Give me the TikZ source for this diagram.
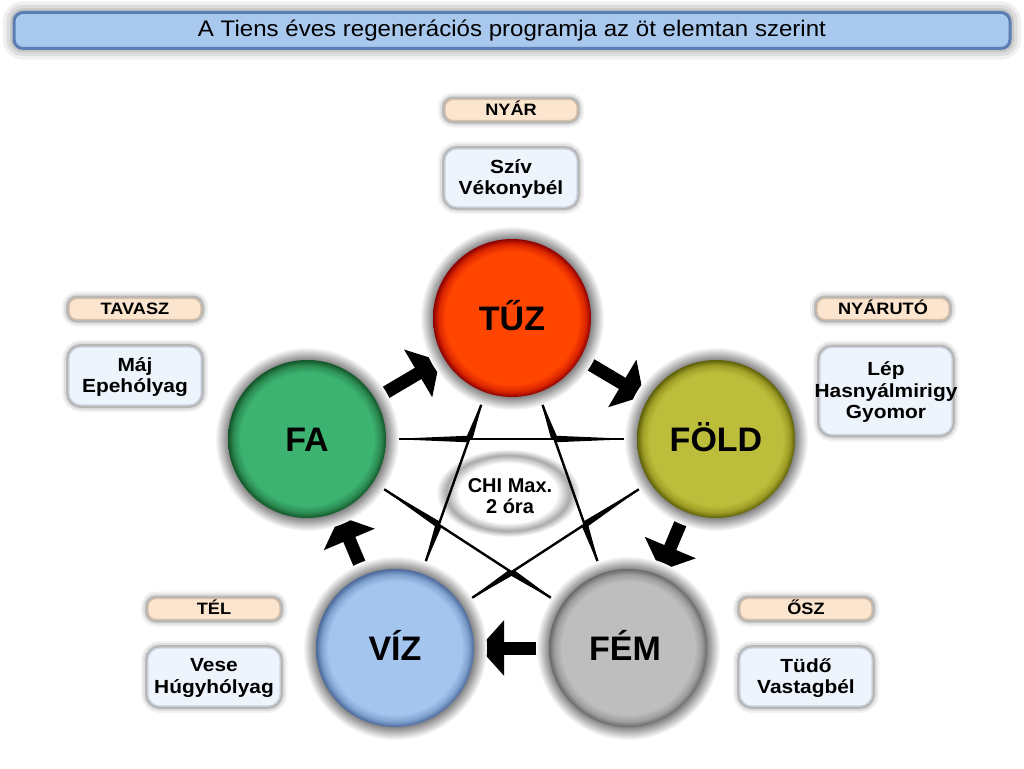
\documentclass[tikz,border=0pt]{standalone}
\usepackage{fontspec}
\setmainfont{Liberation Sans}
\newfontfamily\titlefont{Liberation Sans}[FakeStretch=1.07]
\newfontfamily\boxfont{Liberation Sans}[FakeStretch=1.1]
\usetikzlibrary{arrows.meta,calc,shapes.geometric}

\definecolor{tuzMain}{RGB}{255,69,0}
\definecolor{tuzMid}{RGB}{220,38,0}
\definecolor{tuzRim}{RGB}{140,0,0}
\definecolor{faMain}{RGB}{60,179,113}
\definecolor{faMid}{RGB}{44,140,82}
\definecolor{faRim}{RGB}{18,85,40}
\definecolor{foldMain}{RGB}{189,189,60}
\definecolor{foldMid}{RGB}{158,158,38}
\definecolor{foldRim}{RGB}{95,95,10}
\definecolor{vizMain}{RGB}{164,198,238}
\definecolor{vizMid}{RGB}{128,162,208}
\definecolor{vizRim}{RGB}{75,105,155}
\definecolor{femMain}{RGB}{190,190,190}
\definecolor{femMid}{RGB}{158,158,158}
\definecolor{femRim}{RGB}{105,105,105}
\definecolor{haloG}{RGB}{135,135,135}
\definecolor{chiG}{RGB}{170,170,170}
\definecolor{seasonFill}{RGB}{251,229,207}
\definecolor{seasonEdge}{RGB}{214,190,165}
\definecolor{organFill}{RGB}{238,244,252}
\definecolor{organEdge}{RGB}{205,214,228}
\definecolor{titleFill}{RGB}{168,200,238}
\definecolor{titleEdge}{RGB}{90,125,180}

% path edge corresponds to 25bp
\pgfdeclareradialshading{shTuz}{\pgfpointorigin}{color(0bp)=(tuzMain); color(21bp)=(tuzMain); color(23.3bp)=(tuzMid); color(25bp)=(tuzRim); color(50bp)=(tuzRim)}
\pgfdeclareradialshading{shFa}{\pgfpointorigin}{color(0bp)=(faMain); color(21bp)=(faMain); color(23.3bp)=(faMid); color(25bp)=(faRim); color(50bp)=(faRim)}
\pgfdeclareradialshading{shFold}{\pgfpointorigin}{color(0bp)=(foldMain); color(21bp)=(foldMain); color(23.3bp)=(foldMid); color(25bp)=(foldRim); color(50bp)=(foldRim)}
\pgfdeclareradialshading{shViz}{\pgfpointorigin}{color(0bp)=(vizMain); color(21bp)=(vizMain); color(23.3bp)=(vizMid); color(25bp)=(vizRim); color(50bp)=(vizRim)}
\pgfdeclareradialshading{shFem}{\pgfpointorigin}{color(0bp)=(femMain); color(21bp)=(femMain); color(23.3bp)=(femMid); color(25bp)=(femRim); color(50bp)=(femRim)}
\pgfdeclareradialshading{shHalo}{\pgfpointorigin}{color(0bp)=(haloG); color(21.5bp)=(haloG); color(25bp)=(white); color(50bp)=(white)}
\pgfdeclareradialshading{shChi}{\pgfpointorigin}{color(0bp)=(white); color(17bp)=(white); color(21.5bp)=(chiG); color(25bp)=(white); color(50bp)=(white)}

\tikzset{
  boxglow/.style={preaction={draw=black, opacity=0.05, line width=14pt},
                  preaction={draw=black, opacity=0.07, line width=10pt},
                  preaction={draw=black!28, line width=6pt}},
  seasonbox/.style={rectangle, rounded corners=8pt, minimum width=132pt, minimum height=21pt,
                    inner sep=0pt, fill=seasonFill, draw=seasonEdge, line width=1.2pt, boxglow},
  organbox/.style={rectangle, rounded corners=12pt, minimum width=132pt, minimum height=58pt,
                   inner sep=0pt, fill=organFill, draw=organEdge, line width=1.2pt, boxglow},
  seasontxt/.style={anchor=base, inner sep=0pt, font=\boxfont\bfseries\fontsize{16.5}{18}\selectfont},
  organtxt/.style={align=center, inner sep=0pt, font=\boxfont\bfseries\fontsize{19}{21.5}\selectfont},
  halo/.style={circle, minimum size=184pt, inner sep=0pt, shade, shading=shHalo},
  elem/.style={circle, minimum size=158pt, inner sep=0pt, shade},
  elemtxt/.style={anchor=base, inner sep=0pt, font=\bfseries\fontsize{34}{40}\selectfont},
  blockarrow/.style={line width=13pt, black, -{Triangle[width=54pt,length=25pt]}},
  chord/.style={line width=2.4pt, black},
  titlebar/.style={rectangle, rounded corners=9pt, minimum width=996pt, minimum height=36pt,
                   inner sep=0pt, fill=titleFill, draw=titleEdge, line width=3pt,
                   preaction={draw=black, opacity=0.06, line width=22pt},
                   preaction={draw=black, opacity=0.08, line width=15pt},
                   preaction={draw=black, opacity=0.10, line width=8pt}}
}

\newcommand\spikychord[4]{%
  \draw[chord] ($(#1)!83pt!(#2)$) -- ($(#2)!83pt!(#1)$);
  \fill ($(#1)!83pt!(#2)$) -- ($(#3)!3.3pt!90:(#1)$) -- ($(#3)!3.3pt!-90:(#1)$) -- cycle;
  \fill ($(#2)!83pt!(#1)$) -- ($(#4)!3.3pt!90:(#2)$) -- ($(#4)!3.3pt!-90:(#2)$) -- cycle;
}

\begin{document}
\begin{tikzpicture}[x=1pt, y=-1pt]
\useasboundingbox[fill=white] (0,0) rectangle (1024,768);

% title
\node[titlebar] (title) at (512,30.5) {};
\node[anchor=base, inner sep=0pt, font=\titlefont\fontsize{22.5}{26}\selectfont] (titleT) at (512,36.5)
  {A Tiens éves regenerációs programja az öt elemtan szerint};

% centres
\coordinate (cTuz) at (512,318);
\coordinate (cFa) at (307,439);
\coordinate (cFold) at (716,439);
\coordinate (cViz) at (395,648);
\coordinate (cFem) at (628,648);

% CHI ellipse
\node[ellipse, minimum width=144pt, minimum height=88pt, inner sep=0pt, shade, shading=shChi] (chi) at (508,493) {};

% star chords
\coordinate (p1) at (intersection of cFa--cFold and cTuz--cViz);
\coordinate (p2) at (intersection of cFa--cFold and cTuz--cFem);
\coordinate (p3) at (intersection of cTuz--cFem and cFold--cViz);
\coordinate (p4) at (intersection of cFa--cFem and cFold--cViz);
\coordinate (p5) at (intersection of cFa--cFem and cTuz--cViz);
\spikychord{cFa}{cFold}{p1}{p2}
\spikychord{cFa}{cFem}{p5}{p4}
\spikychord{cTuz}{cViz}{p1}{p5}
\spikychord{cTuz}{cFem}{p2}{p3}
\spikychord{cFold}{cViz}{p3}{p4}

% cycle arrows
\draw[blockarrow] ($(cFa)!91pt!(cTuz)$) -- ($(cTuz)!84pt!(cFa)$);
\draw[blockarrow] ($(cTuz)!91pt!(cFold)$) -- ($(cFold)!84pt!(cTuz)$);
\draw[blockarrow] ($(cFold)!91pt!(cFem)$) -- ($(cFem)!84pt!(cFold)$);
\draw[blockarrow] ($(cFem)!91pt!(cViz)$) -- ($(cViz)!84pt!(cFem)$);
\draw[blockarrow] ($(cViz)!91pt!(cFa)$) -- ($(cFa)!84pt!(cViz)$);

% element circles
\node[halo] (tuzH) at (cTuz) {};
\node[halo] (faH) at (cFa) {};
\node[halo] (foldH) at (cFold) {};
\node[halo] (vizH) at (cViz) {};
\node[halo] (femH) at (cFem) {};
\node[elem, shading=shTuz] (tuz) at (cTuz) {};
\node[elem, shading=shFa] (fa) at (cFa) {};
\node[elem, shading=shFold] (fold) at (cFold) {};
\node[elem, shading=shViz] (viz) at (cViz) {};
\node[elem, shading=shFem] (fem) at (cFem) {};
\node[elemtxt] (tuzT) at ($(cTuz)+(0,12.2)$) {TŰZ};
\node[elemtxt] (faT) at ($(cFa)+(0,12.2)$) {FA};
\node[elemtxt] (foldT) at ($(cFold)+(0,12.2)$) {FÖLD};
\node[elemtxt] (vizT) at ($(cViz)+(0,12.2)$) {VÍZ};
\node[elemtxt] (femT) at ($(cFem)+(-3,12.2)$) {FÉM};

% CHI text
\node[align=center, inner sep=0pt, font=\bfseries\fontsize{20}{21}\selectfont] (chiT) at (510,496) {CHI Max.\\2 óra};

% season boxes
\node[seasonbox] (nyar) at (511,110) {};
\node[seasontxt] (nyarT) at (511,115.5) {NYÁR};
\node[seasonbox] (tavasz) at (135,309) {};
\node[seasontxt] (tavaszT) at (135,314.5) {TAVASZ};
\node[seasonbox] (nyaruto) at (883,309) {};
\node[seasontxt] (nyarutoT) at (883,314.5) {NYÁRUTÓ};
\node[seasonbox] (tel) at (214,609) {};
\node[seasontxt] (telT) at (214,614.5) {TÉL};
\node[seasonbox] (osz) at (806,609) {};
\node[seasontxt] (oszT) at (806,614.5) {ŐSZ};

% organ boxes
\node[organbox] (sziv) at (511,178) {};
\node[organtxt] (szivT) at (511,179) {Szív\\Vékonybél};
\node[organbox] (maj) at (135,376) {};
\node[organtxt] (majT) at (135,377) {Máj\\Epehólyag};
\node[organbox, minimum height=87pt] (lep) at (886,391) {};
\node[organtxt] (lepT) at (886,392) {Lép\\Hasnyálmirigy\\Gyomor};
\node[organbox] (vese) at (214,677) {};
\node[organtxt] (veseT) at (214,678) {Vese\\Húgyhólyag};
\node[organbox] (tudo) at (806,677) {};
\node[organtxt] (tudoT) at (806,678) {Tüdő\\Vastagbél};
\end{tikzpicture}
\end{document}
